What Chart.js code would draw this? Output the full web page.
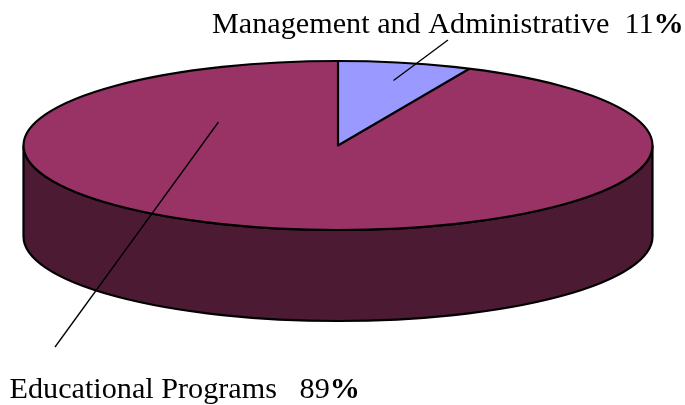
<!DOCTYPE html>
<html>
<head>
<meta charset="utf-8">
<style>html,body{margin:0;padding:0;background:#fff}canvas{display:block}</style>
<script src="https://cdn.jsdelivr.net/npm/chart.js@4"></script>
</head>
<body>
<canvas id="c" width="685" height="405"></canvas>
<script>
const categories = ['Management and Administrative', 'Educational Programs'];
const shares = [11, 89];
const sliceColors = ['#9999ff', '#993366'];
const sideColor = '#4d1a33';
const FONT = '"Liberation Serif", "Times New Roman", serif';

// 3D look of the reference, all relative to the pie's own centre and radius
const TILT = 84.5 / 314.5;     // flattening of the top face
const DEPTH = 91 / 314.5;      // wall height
const SWEEP = 0.556;           // how the reference's projection compresses angles near the top

const labelRuns = [
  { parts: [['Management and Administrative  11', ''], ['%', 'bold ']], dx: -126, dy: -112.5 },
  { parts: [['Educational Programs   89', ''], ['%', 'bold ']], dx: -328.5, dy: 252 }
];
const leaders = [
  [[110, -105.5], [55.5, -65]],
  [[-119.5, -23.5], [-283, 201.5]]
];

function project(a) {
  const t = a + Math.PI / 2;
  return Math.atan2(SWEEP * Math.sin(t), Math.cos(t)) - Math.PI / 2;
}

const pie3d = {
  id: 'pie3d',
  afterDatasetsUpdate(chart) {
    const arcs = chart.getDatasetMeta(0).data;
    const cut = project(arcs[0].endAngle);
    arcs[0].endAngle = cut;
    arcs[1].startAngle = cut;
  },
  beforeDatasetsDraw(chart) {
    const ctx = chart.ctx, a = chart.getDatasetMeta(0).data[0];
    const r = a.outerRadius, ry = r * TILT, d = r * DEPTH;
    ctx.save();
    ctx.beginPath();
    ctx.ellipse(a.x, a.y, r, ry, 0, Math.PI, 0, true);
    ctx.lineTo(a.x + r, a.y + d);
    ctx.ellipse(a.x, a.y + d, r, ry, 0, 0, Math.PI, false);
    ctx.closePath();
    ctx.fillStyle = sideColor;
    ctx.fill();
    ctx.lineWidth = 2.2;
    ctx.strokeStyle = '#000';
    ctx.stroke();
    ctx.restore();
    ctx.save();
    ctx.translate(a.x, a.y);
    ctx.scale(1, TILT);
    ctx.translate(-a.x, -a.y);
  },
  afterDatasetsDraw(chart) {
    const ctx = chart.ctx, arcs = chart.getDatasetMeta(0).data;
    ctx.restore();
    const a = arcs[0], r = a.outerRadius, ry = r * TILT;
    ctx.save();
    ctx.lineWidth = 2.2;
    ctx.strokeStyle = '#000';
    ctx.lineJoin = 'round';
    ctx.beginPath();
    ctx.ellipse(a.x, a.y, r, ry, 0, 0, Math.PI * 2);
    ctx.stroke();
    ctx.beginPath();
    ctx.moveTo(a.x, a.y - ry);
    ctx.lineTo(a.x, a.y);
    ctx.lineTo(a.x + r * Math.cos(a.endAngle), a.y + ry * Math.sin(a.endAngle));
    ctx.stroke();
    ctx.lineWidth = 1.3;
    leaders.forEach(([p, q]) => {
      ctx.beginPath();
      ctx.moveTo(a.x + p[0], a.y + p[1]);
      ctx.lineTo(a.x + q[0], a.y + q[1]);
      ctx.stroke();
    });
    ctx.fillStyle = '#000';
    ctx.textBaseline = 'alphabetic';
    labelRuns.forEach(l => {
      let x = a.x + l.dx;
      l.parts.forEach(([t, w]) => {
        ctx.font = w + '30.2px ' + FONT;
        ctx.fillText(t, x, a.y + l.dy);
        x += ctx.measureText(t).width;
      });
    });
    ctx.restore();
  }
};

new Chart(document.getElementById('c'), {
  type: 'pie',
  data: {
    labels: categories,
    datasets: [{
      data: shares,
      backgroundColor: sliceColors,
      borderWidth: 0,
      radius: 314.5,
      clip: false
    }]
  },
  options: {
    responsive: false,
    animation: false,
    layout: { padding: { right: 9, bottom: 114 } },
    plugins: { legend: { display: false }, tooltip: { enabled: false } }
  },
  plugins: [pie3d]
});
</script>
</body>
</html>
